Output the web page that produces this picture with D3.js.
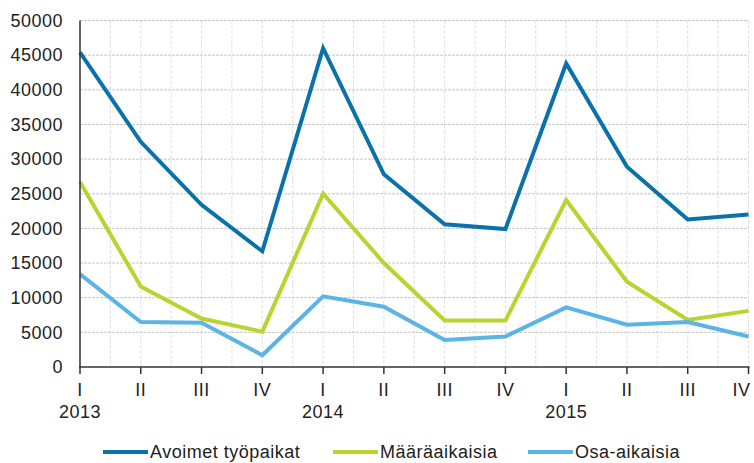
<!DOCTYPE html>
<html>
<head>
<meta charset="utf-8">
<script src="https://cdn.jsdelivr.net/npm/d3@7"></script>
<style>
  body { margin: 0; background: #fff; }
  text { font-family: Arial, "Liberation Sans", sans-serif; fill: #222; font-size: 18px; letter-spacing: 0.5px; }
</style>
</head>
<body>
<main></main>
<script>
var width = 754;
var height = 463;

var quarters = ['I', 'II', 'III', 'IV', 'I', 'II', 'III', 'IV', 'I', 'II', 'III', 'IV'];
var years = ['2013', '', '', '', '2014', '', '', '', '2015', '', '', ''];
var yTicks = [0, 5000, 10000, 15000, 20000, 25000, 30000, 35000, 40000, 45000, 50000];

var seriesNames = ['Avoimet työpaikat', 'Määräaikaisia', 'Osa-aikaisia'];
var seriesColors = ['#0a71ab', '#b7d431', '#5cb3e6'];
var avoimet = [45400, 32500, 23400, 16700, 46000, 27800, 20600, 19900, 43800, 28900, 21300, 22000];
var maaraaikaisia = [26700, 11600, 7000, 5100, 25000, 15000, 6700, 6700, 24100, 12300, 6800, 8100];
var osaaikaisia = [13400, 6500, 6400, 1700, 10200, 8700, 3900, 4400, 8600, 6100, 6500, 4400];
var allSeries = [avoimet, maaraaikaisia, osaaikaisia];

var plotLeft = 80, plotRight = 748.5, plotTop = 20.5, plotBottom = 367;

var svg = d3.select('main').append('svg')
  .attr('width', width)
  .attr('height', height);

svg.append('rect')
  .attr('width', width)
  .attr('height', height)
  .attr('fill', '#fff');

var x = d3.scalePoint()
  .domain(d3.range(quarters.length))
  .range([plotLeft, plotRight]);

var y = d3.scaleLinear()
  .domain([0, 50000])
  .range([plotBottom, plotTop]);

// vertical grid, at every quarter and half way between
var gridX = [];
for (var i = 0; i < quarters.length; i++) {
  gridX.push(x(i));
  if (i < quarters.length - 1) gridX.push((x(i) + x(i + 1)) / 2);
}
svg.selectAll('.vgrid').data(gridX).enter().append('line')
  .attr('class', 'vgrid')
  .attr('x1', function(d) { return d; })
  .attr('x2', function(d) { return d; })
  .attr('y1', plotTop)
  .attr('y2', plotBottom)
  .attr('stroke', '#d9dce8')
  .attr('stroke-width', 1)
  .attr('stroke-dasharray', '3,2');

svg.selectAll('.hgrid').data(yTicks.slice(1)).enter().append('line')
  .attr('class', 'hgrid')
  .attr('x1', plotLeft)
  .attr('x2', plotRight)
  .attr('y1', function(d) { return y(d); })
  .attr('y2', function(d) { return y(d); })
  .attr('stroke', '#c8c8c8')
  .attr('stroke-width', 1)
  .attr('stroke-dasharray', '3,1');

// y labels
svg.selectAll('.ylab').data(yTicks).enter().append('text')
  .attr('class', 'ylab')
  .attr('x', 63)
  .attr('y', function(d) { return y(d); })
  .attr('dy', '0.35em')
  .attr('text-anchor', 'end')
  .text(function(d) { return d; });

// lines
var line = d3.line()
  .x(function(d, i) { return x(i); })
  .y(function(d) { return y(d); });

svg.selectAll('.series').data(allSeries).enter().append('path')
  .attr('class', 'series')
  .attr('d', line)
  .attr('fill', 'none')
  .attr('stroke', function(d, i) { return seriesColors[i]; })
  .attr('stroke-width', 4)
  .attr('stroke-linejoin', 'miter');

// axes
svg.append('line')
  .attr('x1', plotLeft).attr('x2', plotLeft)
  .attr('y1', plotTop).attr('y2', plotBottom)
  .attr('stroke', '#333').attr('stroke-width', 1.5);
svg.append('line')
  .attr('x1', plotLeft - 1).attr('x2', plotRight + 1)
  .attr('y1', plotBottom).attr('y2', plotBottom)
  .attr('stroke', '#333').attr('stroke-width', 1.5);

svg.selectAll('.xtick').data(quarters).enter().append('line')
  .attr('class', 'xtick')
  .attr('x1', function(d, i) { return x(i); })
  .attr('x2', function(d, i) { return x(i); })
  .attr('y1', plotBottom)
  .attr('y2', plotBottom + 7)
  .attr('stroke', '#333').attr('stroke-width', 1.5);

svg.selectAll('.qlab').data(quarters).enter().append('text')
  .attr('class', 'qlab')
  .attr('x', function(d, i) { return i === quarters.length - 1 ? x(i) + 2 : x(i); })
  .attr('y', 396)
  .attr('text-anchor', function(d, i) { return i === quarters.length - 1 ? 'end' : 'middle'; })
  .text(function(d) { return d; });

svg.selectAll('.yearlab').data(years).enter().append('text')
  .attr('class', 'yearlab')
  .attr('x', function(d, i) { return x(i); })
  .attr('y', 418)
  .attr('text-anchor', 'middle')
  .text(function(d) { return d; });

// legend
var legendX = [103, 333, 528];
var legend = svg.selectAll('.legend').data(seriesNames).enter().append('g')
  .attr('class', 'legend')
  .attr('transform', function(d, i) { return 'translate(' + legendX[i] + ',452)'; });
legend.append('line')
  .attr('x1', 0).attr('x2', 45)
  .attr('stroke', function(d, i) { return seriesColors[i]; })
  .attr('stroke-width', 4);
legend.append('text')
  .attr('x', 47)
  .attr('dy', '0.35em')
  .text(function(d) { return d; });
</script>
</body>
</html>
